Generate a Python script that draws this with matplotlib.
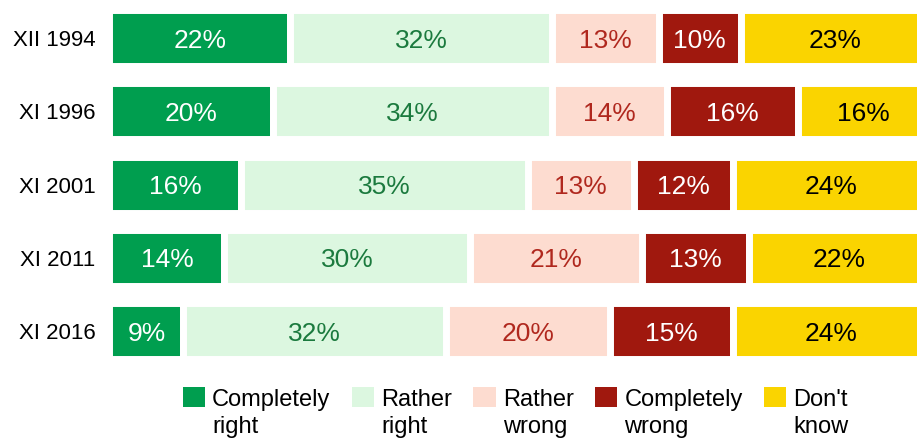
import matplotlib.pyplot as plt
import numpy as np

plt.rcParams['font.family'] = ['Liberation Sans', 'DejaVu Sans']

years = ["XII 1994", "XI 1996", "XI 2001", "XI 2011", "XI 2016"]
categories = ["Completely\nright", "Rather\nright", "Rather\nwrong", "Completely\nwrong", "Don't\nknow"]
completely_right = [22, 20, 16, 14, 9]
rather_right = [32, 34, 35, 30, 32]
rather_wrong = [13, 14, 13, 21, 20]
completely_wrong = [10, 16, 12, 13, 15]
dont_know = [23, 16, 24, 22, 24]

series = [completely_right, rather_right, rather_wrong, completely_wrong, dont_know]
colors = ["#009e4f", "#dcf7e0", "#fddcd0", "#a0180e", "#fad400"]
text_colors = ["white", "#1b7a3e", "#b0281e", "white", "black"]

fig = plt.figure(figsize=(9.17, 4.41), dpi=100)
ax = fig.add_axes([0.1194, 0.1664, 0.894, 0.830])

y = np.arange(len(years))
left = np.zeros(len(years))
for vals, col, tcol, lab in zip(series, colors, text_colors, categories):
    ax.barh(y, vals, left=left, height=0.765, color=col,
            edgecolor="white", linewidth=5, label=lab)
    for yi, (l, v) in enumerate(zip(left, vals)):
        ax.text(l + v / 2, yi, f"{v}%", ha="center", va="center_baseline",
                color=tcol, fontsize=19)
    left += np.array(vals)

ax.set_xlim(0, 100)
ax.set_ylim(4.5, -0.5)
ax.set_yticks(y)
ax.set_yticklabels(years, fontsize=16)
ax.tick_params(axis="y", length=0, pad=10)
ax.set_xticks([])
for s in ax.spines.values():
    s.set_visible(False)

leg = fig.legend(loc="lower left", bbox_to_anchor=(0.181, -0.03), ncol=5,
                 frameon=False, fontsize=17, handlelength=0.95, handleheight=0.95,
                 handletextpad=0.3, columnspacing=0.9, borderpad=0.2)
for t in leg.get_texts():
    t.set_linespacing(1.3)
for h in leg.legend_handles:
    h.set_linewidth(0)
    h.set_y(h.get_y() + 12)

fig.savefig("out.png", dpi=100)
